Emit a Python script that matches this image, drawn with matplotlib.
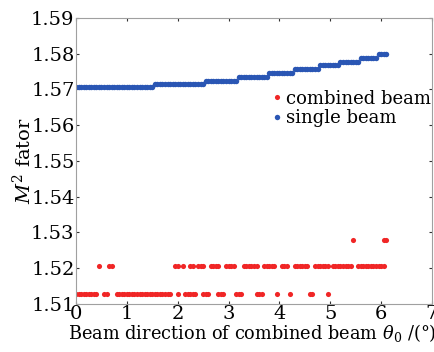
import numpy as np
import matplotlib
matplotlib.use('Agg')
import matplotlib.pyplot as plt

plt.rcParams['font.family'] = ['DejaVu Serif']
plt.rcParams['mathtext.fontset'] = 'dejavuserif'

# angulo del haz combinado (grados), paso de calculo
theta = np.round(np.arange(0, 6.11, 0.05), 2)

# haz simple: M^2 constante por tramos
single_edges = [0.0, 1.52, 2.52, 3.20, 3.80, 4.30, 4.76, 5.18, 5.56, 5.94, 6.12]
single_levels = [1.5706, 1.5715, 1.5725, 1.5734, 1.5747, 1.5757, 1.5768, 1.5777, 1.5788, 1.5800]

# haz combinado: tramos de angulo donde aparece cada nivel de M^2
combined_levels = [1.5128, 1.5205, 1.5278]
combined_runs = [
    [(0.0, 0.40), (0.55, 0.60), (0.80, 1.85), (2.0, 2.0), (2.15, 2.25), (2.30, 2.35),
     (2.50, 2.60), (2.80, 2.90), (3.15, 3.25), (3.55, 3.65), (3.95, 3.95), (4.20, 4.20),
     (4.60, 4.65), (4.95, 4.95)],
    [(0.45, 0.45), (0.65, 0.70), (1.95, 2.00), (2.10, 2.10), (2.25, 2.30), (2.40, 2.50),
     (2.65, 2.80), (2.95, 3.10), (3.30, 3.55), (3.70, 3.90), (4.05, 4.15), (4.30, 4.55),
     (4.70, 4.95), (5.05, 5.40), (5.55, 6.05)],
    [(5.45, 5.45), (6.05, 6.10)],
]

th_s = []
m_s = []
for i, lvl in enumerate(single_levels):
    sel = theta[(theta >= single_edges[i]) & (theta < single_edges[i + 1])]
    th_s.extend(sel)
    m_s.extend([lvl] * len(sel))

th_c = []
m_c = []
for lvl, runs in zip(combined_levels, combined_runs):
    for a, b in runs:
        sel = theta[(theta >= a - 1e-9) & (theta <= b + 1e-9)]
        th_c.extend(sel)
        m_c.extend([lvl] * len(sel))

fig = plt.figure(figsize=(4.35, 3.52), dpi=100)
ax = fig.add_axes([0.1747, 0.1364, 0.8183, 0.8125])

ax.plot(th_c, m_c, 'o', color='#f02626', markersize=3.7, markeredgewidth=0,
        linestyle='none', label='combined beam')
ax.plot(th_s, m_s, 'o', color='#2a56b4', markersize=3.9, markeredgewidth=0,
        linestyle='none', label='single beam')

fs = 14
ax.set_xlim(0, 7)
ax.set_ylim(1.51, 1.59)
ax.set_xticks(range(0, 8))
ax.set_yticks(np.round(np.arange(1.51, 1.591, 0.01), 2))
ax.tick_params(direction='in', length=2, width=0.8, labelsize=fs, pad=1,
               top=True, right=True, colors='#333333', labelcolor='black')
for s in ax.spines.values():
    s.set_color('#a0a0a0')
    s.set_linewidth(0.8)

# rotulo del eje x alineado a la izquierda (se sale por la derecha)
ax.set_xlabel(r'Beam direction of combined beam $\theta_{\mathrm{0}}$ /(°)', fontsize=12.8,
              labelpad=-1, ha='left', x=-0.022)
ax.set_ylabel(r'$M^2$ fator', fontsize=fs, labelpad=-3)

ax.legend(loc='upper left', bbox_to_anchor=(0.52, 0.775), frameon=False, fontsize=13,
          handletextpad=0.0, borderaxespad=0, labelspacing=0.1, markerscale=1.0,
          handlelength=1.0)

fig.savefig('out.png', dpi=100)
